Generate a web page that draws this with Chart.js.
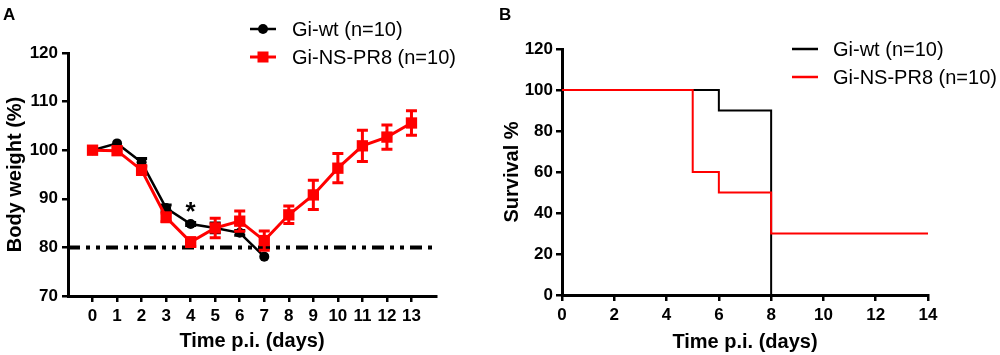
<!DOCTYPE html>
<html lang="en">
<head>
    <meta charset="UTF-8">
    <title>Body weight and survival</title>
    <style>
        body {
            margin: 0;
            padding: 0;
            background: #fff;
            font-family: "Liberation Sans", Arial, sans-serif;
        }
        .panel {
            position: absolute;
            top: 0;
            height: 355px;
        }
        #panelA { left: 0; width: 490px; }
        #panelB { left: 490px; width: 510px; }
    </style>
</head>
<body>
    <div class="panel" id="panelA"><canvas id="weightChart"></canvas></div>
    <div class="panel" id="panelB"><canvas id="survivalChart"></canvas></div>

    <script src="https://cdn.jsdelivr.net/npm/chart.js"></script>
    <script>
        // Panel A - body weight
        const days = [0, 1, 2, 3, 4, 5, 6, 7, 8, 9, 10, 11, 12, 13];
        const wtDays = [0, 1, 2, 3, 4, 5, 6, 7];
        const wtMean = [100, 101.4, 97.5, 88.1, 84.8, 84.0, 83.0, 78.1];
        const wtErr = [0, 0, 0.8, 0.6, 0.3, 1.0, 0.5, 0];
        const nsMean = [100, 99.9, 95.9, 86.2, 81.1, 84.0, 85.4, 81.4, 86.7, 90.8, 96.3, 100.9, 102.7, 105.6];
        const nsErr = [0, 0, 0.9, 0.9, 0.9, 2.0, 2.1, 2.0, 1.8, 3.0, 3.0, 3.2, 2.5, 2.5];
        const cutoffX = [-1, 14];
        const cutoffY = [80, 80];
        const sigDays = [4];
        const sigY = [88.6];
        const weightTicksY = [70, 80, 90, 100, 110, 120];

        // Panel B - survival
        const wtSurvDays = [0, 6, 8];
        const wtSurv = [100, 90, 0];
        const nsSurvDays = [0, 5, 6, 8, 14];
        const nsSurv = [100, 60, 50, 30, 30];

        const labels = ['Gi-wt (n=10)', 'Gi-NS-PR8 (n=10)'];
        const RED = '#ff0000';
        const FONT = '"Liberation Sans", Arial, sans-serif';

        Chart.defaults.font.family = FONT;
        Chart.defaults.color = '#000';

        function pts(xs, ys) {
            return xs.map((x, i) => ({ x: x, y: ys[i] }));
        }

        const errorBars = {
            id: 'errorBars',
            beforeDatasetDraw(chart, args) {
                const ds = chart.data.datasets[args.index];
                if (!ds.errors) return;
                const ctx = chart.ctx;
                const xs = chart.scales.x, ys = chart.scales.y;
                ctx.save();
                ctx.strokeStyle = ds.borderColor;
                ctx.lineWidth = 3;
                ds.data.forEach((p, i) => {
                    const e = ds.errors[i];
                    if (!e) return;
                    const px = xs.getPixelForValue(p.x);
                    const top = ys.getPixelForValue(p.y + e);
                    const bot = ys.getPixelForValue(p.y - e);
                    ctx.beginPath();
                    ctx.moveTo(px, top); ctx.lineTo(px, bot);
                    ctx.moveTo(px - 5.5, top); ctx.lineTo(px + 5.5, top);
                    ctx.moveTo(px - 5.5, bot); ctx.lineTo(px + 5.5, bot);
                    ctx.stroke();
                });
                ctx.restore();
            }
        };

        function legendPlugin(letter, letterX, items) {
            return {
                id: 'panelLegend',
                afterDraw(chart) {
                    const ctx = chart.ctx;
                    ctx.save();
                    ctx.fillStyle = '#000';
                    ctx.font = 'bold 17px ' + FONT;
                    ctx.textBaseline = 'alphabetic';
                    ctx.fillText(letter, letterX, 20);
                    items.forEach(it => {
                        ctx.strokeStyle = it.color;
                        ctx.fillStyle = it.color;
                        ctx.lineWidth = it.width;
                        ctx.beginPath();
                        ctx.moveTo(it.x, it.y);
                        ctx.lineTo(it.x + 26, it.y);
                        ctx.stroke();
                        if (it.marker === 'circle') {
                            ctx.beginPath();
                            ctx.arc(it.x + 13, it.y, 5, 0, Math.PI * 2);
                            ctx.fill();
                        } else if (it.marker === 'rect') {
                            ctx.fillRect(it.x + 13 - 5.5, it.y - 5.5, 11, 11);
                        }
                        ctx.fillStyle = '#000';
                        ctx.font = '20px ' + FONT;
                        ctx.textBaseline = 'middle';
                        ctx.fillText(it.text, it.textX, it.y + 1);
                    });
                    ctx.restore();
                }
            };
        }

        const asterisk = {
            id: 'asterisk',
            afterDatasetsDraw(chart) {
                const ctx = chart.ctx;
                ctx.save();
                ctx.fillStyle = '#000';
                ctx.font = 'bold 26px ' + FONT;
                ctx.textAlign = 'center';
                ctx.textBaseline = 'alphabetic';
                sigDays.forEach((d, i) => {
                    const px = chart.scales.x.getPixelForValue(d);
                    const py = chart.scales.y.getPixelForValue(sigY[i]);
                    ctx.fillText('*', px, py + 0.57 * 26);
                });
                ctx.restore();
            }
        };

        const tickFont = { size: 17, weight: 'bold' };
        const titleFont = { size: 20, weight: 'bold' };

        new Chart(document.getElementById('weightChart'), {
            type: 'line',
            data: {
                datasets: [
                    {
                        label: labels[0],
                        data: pts(wtDays, wtMean),
                        errors: wtErr,
                        borderColor: '#000',
                        backgroundColor: '#000',
                        borderWidth: 2.5,
                        pointStyle: 'circle',
                        pointRadius: 5,
                        pointBorderWidth: 0,
                        order: 1
                    },
                    {
                        label: labels[1],
                        data: pts(days, nsMean),
                        errors: nsErr,
                        borderColor: RED,
                        backgroundColor: RED,
                        borderWidth: 3,
                        pointStyle: 'rect',
                        pointRadius: 8,
                        pointBorderWidth: 0,
                        order: 0
                    },
                    {
                        label: 'cutoff',
                        data: pts(cutoffX, cutoffY),
                        borderColor: '#000',
                        borderWidth: 4,
                        borderDash: [12, 6, 4, 6, 4, 6],
                        pointRadius: 0,
                        order: 2
                    }
                ]
            },
            options: {
                responsive: true,
                maintainAspectRatio: false,
                animation: false,
                layout: { padding: { top: 53, right: 54, left: 0, bottom: 0 } },
                plugins: { legend: { display: false }, tooltip: { enabled: false } },
                scales: {
                    x: {
                        type: 'linear',
                        min: -1,
                        max: 14,
                        afterBuildTicks: s => { s.ticks = days.map(d => ({ value: d })); },
                        afterFit: s => { s.height = 59; },
                        ticks: { font: tickFont, color: '#000', padding: 4, autoSkip: false, maxRotation: 0 },
                        grid: { drawOnChartArea: false, tickLength: 6, lineWidth: 2.5, color: '#000' },
                        border: { width: 3, color: '#000' },
                        title: { display: true, text: 'Time p.i. (days)', font: titleFont, color: '#000', padding: { top: 0, bottom: 2 } }
                    },
                    y: {
                        min: 70,
                        max: 120,
                        afterBuildTicks: s => { s.ticks = weightTicksY.map(v => ({ value: v })); },
                        afterFit: s => { s.width = 68; },
                        ticks: { font: tickFont, color: '#000', padding: 4 },
                        grid: { drawOnChartArea: false, tickLength: 6, lineWidth: 2.5, color: '#000' },
                        border: { width: 3, color: '#000' },
                        title: { display: true, text: 'Body weight (%)', font: titleFont, color: '#000', padding: { top: 3, bottom: 0 } }
                    }
                }
            },
            plugins: [errorBars, asterisk, legendPlugin('A', 3, [
                { text: labels[0], color: '#000', width: 2.5, marker: 'circle', x: 250, y: 29, textX: 292 },
                { text: labels[1], color: RED, width: 3, marker: 'rect', x: 250, y: 57, textX: 292 }
            ])]
        });

        new Chart(document.getElementById('survivalChart'), {
            type: 'line',
            data: {
                datasets: [
                    {
                        label: labels[0],
                        data: pts(wtSurvDays, wtSurv),
                        borderColor: '#000',
                        borderWidth: 2,
                        stepped: 'before',
                        pointRadius: 0,
                        order: 1
                    },
                    {
                        label: labels[1],
                        data: pts(nsSurvDays, nsSurv),
                        borderColor: RED,
                        borderWidth: 2,
                        stepped: 'before',
                        pointRadius: 0,
                        order: 0
                    }
                ]
            },
            options: {
                responsive: true,
                maintainAspectRatio: false,
                animation: false,
                layout: { padding: { top: 49, right: 72, left: 0, bottom: 0 } },
                plugins: { legend: { display: false }, tooltip: { enabled: false } },
                scales: {
                    x: {
                        type: 'linear',
                        min: 0,
                        max: 14,
                        ticks: { stepSize: 2, font: tickFont, color: '#000', padding: 4, maxRotation: 0 },
                        afterFit: s => { s.height = 60; },
                        grid: { drawOnChartArea: false, tickLength: 6, lineWidth: 2.5, color: '#000' },
                        border: { width: 3, color: '#000' },
                        title: { display: true, text: 'Time p.i. (days)', font: titleFont, color: '#000', padding: { top: 0, bottom: 1 } }
                    },
                    y: {
                        min: 0,
                        max: 120,
                        ticks: { stepSize: 20, font: tickFont, color: '#000', padding: 3 },
                        afterFit: s => { s.width = 72; },
                        grid: { drawOnChartArea: false, tickLength: 6, lineWidth: 2.5, color: '#000' },
                        border: { width: 3, color: '#000' },
                        title: { display: true, text: 'Survival %', font: titleFont, color: '#000', padding: { top: 10, bottom: 0 } }
                    }
                }
            },
            plugins: [legendPlugin('B', 9, [
                { text: labels[0], color: '#000', width: 2.5, marker: null, x: 302, y: 49, textX: 343 },
                { text: labels[1], color: RED, width: 2.5, marker: null, x: 302, y: 77, textX: 343 }
            ])]
        });
    </script>
</body>
</html>
